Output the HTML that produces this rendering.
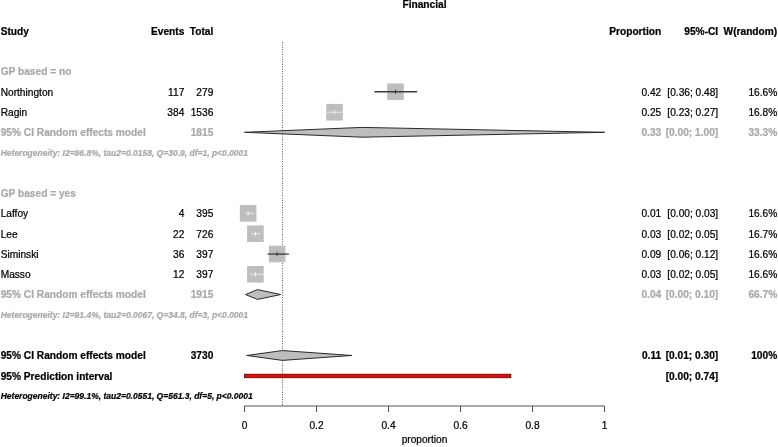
<!DOCTYPE html>
<html><head><meta charset="utf-8"><title>Financial</title>
<style>
html,body{margin:0;padding:0;background:#fff;}
body{width:778px;height:447px;overflow:hidden;}
svg{display:block;font-family:"Liberation Sans",Arial,Helvetica,sans-serif;font-size:10.16px;fill:#000;}
text{stroke:#000;stroke-width:0.22px;}
.g{stroke:#a9a9a9}
.b{font-weight:bold}
.g{fill:#a9a9a9}
.h{font-weight:bold;font-style:italic;font-size:8.5px}
.e{text-anchor:end}
.m{text-anchor:middle}
</style></head><body>
<svg width="778" height="447" viewBox="0 0 778 447">
<rect width="778" height="447" fill="#fff"/>
<text x="424.5" y="8.0" class="b m">Financial</text>
<text x="0.7" y="34.85" class="b">Study</text>
<text x="184.3" y="34.85" class="b e">Events</text>
<text x="213.3" y="34.85" class="b e">Total</text>
<text x="661.2" y="34.85" class="b e">Proportion</text>
<text x="718.2" y="34.85" class="b e">95%-CI</text>
<text x="777.2" y="34.85" class="b e">W(random)</text>
<text x="0.7" y="75.41" class="b g">GP based = no</text>
<text x="0.7" y="197.09" class="b g">GP based = yes</text>
<text x="0.7" y="95.69" class="">Northington</text>
<text x="184.3" y="95.69" class="e">117</text>
<text x="213.3" y="95.69" class="e">279</text>
<text x="661.2" y="95.69" class="e">0.42</text>
<text x="718.2" y="95.69" class="e">[0.36; 0.48]</text>
<text x="777.2" y="95.69" class="e">16.6%</text>
<text x="0.7" y="115.97" class="">Ragin</text>
<text x="184.3" y="115.97" class="e">384</text>
<text x="213.3" y="115.97" class="e">1536</text>
<text x="661.2" y="115.97" class="e">0.25</text>
<text x="718.2" y="115.97" class="e">[0.23; 0.27]</text>
<text x="777.2" y="115.97" class="e">16.8%</text>
<text x="0.7" y="217.37" class="">Laffoy</text>
<text x="184.3" y="217.37" class="e">4</text>
<text x="213.3" y="217.37" class="e">395</text>
<text x="661.2" y="217.37" class="e">0.01</text>
<text x="718.2" y="217.37" class="e">[0.00; 0.03]</text>
<text x="777.2" y="217.37" class="e">16.6%</text>
<text x="0.7" y="237.65" class="">Lee</text>
<text x="184.3" y="237.65" class="e">22</text>
<text x="213.3" y="237.65" class="e">726</text>
<text x="661.2" y="237.65" class="e">0.03</text>
<text x="718.2" y="237.65" class="e">[0.02; 0.05]</text>
<text x="777.2" y="237.65" class="e">16.7%</text>
<text x="0.7" y="257.93" class="">Siminski</text>
<text x="184.3" y="257.93" class="e">36</text>
<text x="213.3" y="257.93" class="e">397</text>
<text x="661.2" y="257.93" class="e">0.09</text>
<text x="718.2" y="257.93" class="e">[0.06; 0.12]</text>
<text x="777.2" y="257.93" class="e">16.6%</text>
<text x="0.7" y="278.21" class="">Masso</text>
<text x="184.3" y="278.21" class="e">12</text>
<text x="213.3" y="278.21" class="e">397</text>
<text x="661.2" y="278.21" class="e">0.03</text>
<text x="718.2" y="278.21" class="e">[0.02; 0.05]</text>
<text x="777.2" y="278.21" class="e">16.6%</text>
<text x="0.7" y="136.25" class="b g">95% CI Random effects model</text>
<text x="213.3" y="136.25" class="b g e">1815</text>
<text x="661.2" y="136.25" class="b g e">0.33</text>
<text x="718.2" y="136.25" class="b g e">[0.00; 1.00]</text>
<text x="777.2" y="136.25" class="b g e">33.3%</text>
<text x="0.7" y="298.49" class="b g">95% CI Random effects model</text>
<text x="213.3" y="298.49" class="b g e">1915</text>
<text x="661.2" y="298.49" class="b g e">0.04</text>
<text x="718.2" y="298.49" class="b g e">[0.00; 0.10]</text>
<text x="777.2" y="298.49" class="b g e">66.7%</text>
<text x="0.7" y="359.33" class="b">95% CI Random effects model</text>
<text x="213.3" y="359.33" class="b e">3730</text>
<text x="661.2" y="359.33" class="b e">0.11</text>
<text x="718.2" y="359.33" class="b e">[0.01; 0.30]</text>
<text x="777.2" y="359.33" class="b e">100%</text>
<text x="0.7" y="379.71000000000004" class="b">95% Prediction interval</text>
<text x="718.2" y="379.71000000000004" class="b e">[0.00; 0.74]</text>
<text x="0.7" y="155.93" class="h g">Heterogeneity: I2=96.8%, tau2=0.0158, Q=30.9, df=1, p&lt;0.0001</text>
<text x="0.7" y="318.16999999999996" class="h g">Heterogeneity: I2=91.4%, tau2=0.0067, Q=34.8, df=3, p&lt;0.0001</text>
<text x="0.7" y="399.43999999999994" class="h">Heterogeneity: I2=99.1%, tau2=0.0551, Q=561.3, df=5, p&lt;0.0001</text>
<line x1="282.5" y1="42" x2="282.5" y2="406" stroke="#333" stroke-width="0.9" stroke-dasharray="0.9 1.53"/>
<rect x="387.17" y="83.44" width="16.6" height="16.6" fill="#bebebe"/>
<line x1="374.39" y1="91.74" x2="417.17" y2="91.74" stroke="#3c3c3c" stroke-width="1.3"/>
<line x1="395.47" y1="89.54" x2="395.47" y2="93.94" stroke="#222" stroke-width="0.8"/>
<rect x="326.20" y="103.92" width="16.6" height="16.6" fill="#bebebe"/>
<line x1="326.77" y1="112.22" x2="342.58" y2="112.22" stroke="#fff" stroke-width="0.7"/>
<line x1="334.50" y1="110.02" x2="334.50" y2="114.42" stroke="#fff" stroke-width="0.8"/>
<rect x="239.85" y="205.12" width="16.6" height="16.6" fill="#bebebe"/>
<line x1="245.50" y1="213.42" x2="253.76" y2="213.42" stroke="#fff" stroke-width="0.7"/>
<line x1="248.15" y1="211.22" x2="248.15" y2="215.62" stroke="#fff" stroke-width="0.8"/>
<rect x="247.11" y="225.40" width="16.6" height="16.6" fill="#bebebe"/>
<line x1="251.37" y1="233.70" x2="260.89" y2="233.70" stroke="#fff" stroke-width="0.7"/>
<line x1="255.41" y1="231.50" x2="255.41" y2="235.90" stroke="#fff" stroke-width="0.8"/>
<rect x="268.84" y="245.68" width="16.6" height="16.6" fill="#bebebe"/>
<line x1="267.66" y1="254.08" x2="288.90" y2="254.08" stroke="#3c3c3c" stroke-width="1.3"/>
<line x1="277.14" y1="251.78" x2="277.14" y2="256.18" stroke="#222" stroke-width="0.8"/>
<rect x="247.08" y="265.96" width="16.6" height="16.6" fill="#bebebe"/>
<line x1="250.16" y1="274.26" x2="263.29" y2="274.26" stroke="#fff" stroke-width="0.7"/>
<line x1="255.38" y1="272.06" x2="255.38" y2="276.46" stroke="#fff" stroke-width="0.8"/>
<polygon points="244.50,132.30 362.04,127.40 604.50,132.30 362.04,137.20" fill="#bebebe" stroke="#2a2a2a" stroke-width="1" stroke-linejoin="miter"/>
<polygon points="245.51,294.54 257.46,289.64 280.75,294.54 257.46,299.44" fill="#bebebe" stroke="#2a2a2a" stroke-width="1" stroke-linejoin="miter"/>
<polygon points="246.73,355.48 282.37,350.58 352.00,355.48 282.37,360.38" fill="#bebebe" stroke="#2a2a2a" stroke-width="1" stroke-linejoin="miter"/>
<rect x="244.50" y="374.16" width="266.40" height="3.6" fill="#f00" stroke="#201010" stroke-width="0.7"/>
<path d="M244.5 412V406H604.5V412" fill="none" stroke="#555" stroke-width="1"/>
<text x="244.5" y="428.7" class="m">0</text>
<line x1="316.5" y1="406" x2="316.5" y2="412" stroke="#555" stroke-width="1"/>
<text x="316.5" y="428.7" class="m">0.2</text>
<line x1="388.5" y1="406" x2="388.5" y2="412" stroke="#555" stroke-width="1"/>
<text x="388.5" y="428.7" class="m">0.4</text>
<line x1="460.5" y1="406" x2="460.5" y2="412" stroke="#555" stroke-width="1"/>
<text x="460.5" y="428.7" class="m">0.6</text>
<line x1="532.5" y1="406" x2="532.5" y2="412" stroke="#555" stroke-width="1"/>
<text x="532.5" y="428.7" class="m">0.8</text>
<text x="604.5" y="428.7" class="m">1</text>
<text x="424.5" y="443.3" class="m">proportion</text>
</svg></body></html>
